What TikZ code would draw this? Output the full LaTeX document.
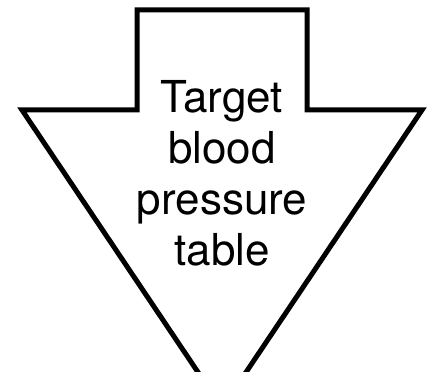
\documentclass[tikz,border=0pt]{standalone}
\usepackage{fontspec}
\setmainfont{TeX Gyre Heros}
\begin{document}
\begin{tikzpicture}[x=1pt,y=-1pt]
    \useasboundingbox (0,0) rectangle (427,371);
    % arrow outline, tip runs off the bottom
    \draw[line width=5pt,line join=miter]
        (137,10) -- (307,10) -- (307,110) -- (422,110)
        -- (222,408) -- (22,110) -- (137,110) -- cycle;
    \node (label) at (222,265) [anchor=base,align=center,
        font=\fontsize{44}{51}\selectfont,inner sep=0pt]
        {Target\\blood\\pressure\\table};
\end{tikzpicture}
\end{document}
